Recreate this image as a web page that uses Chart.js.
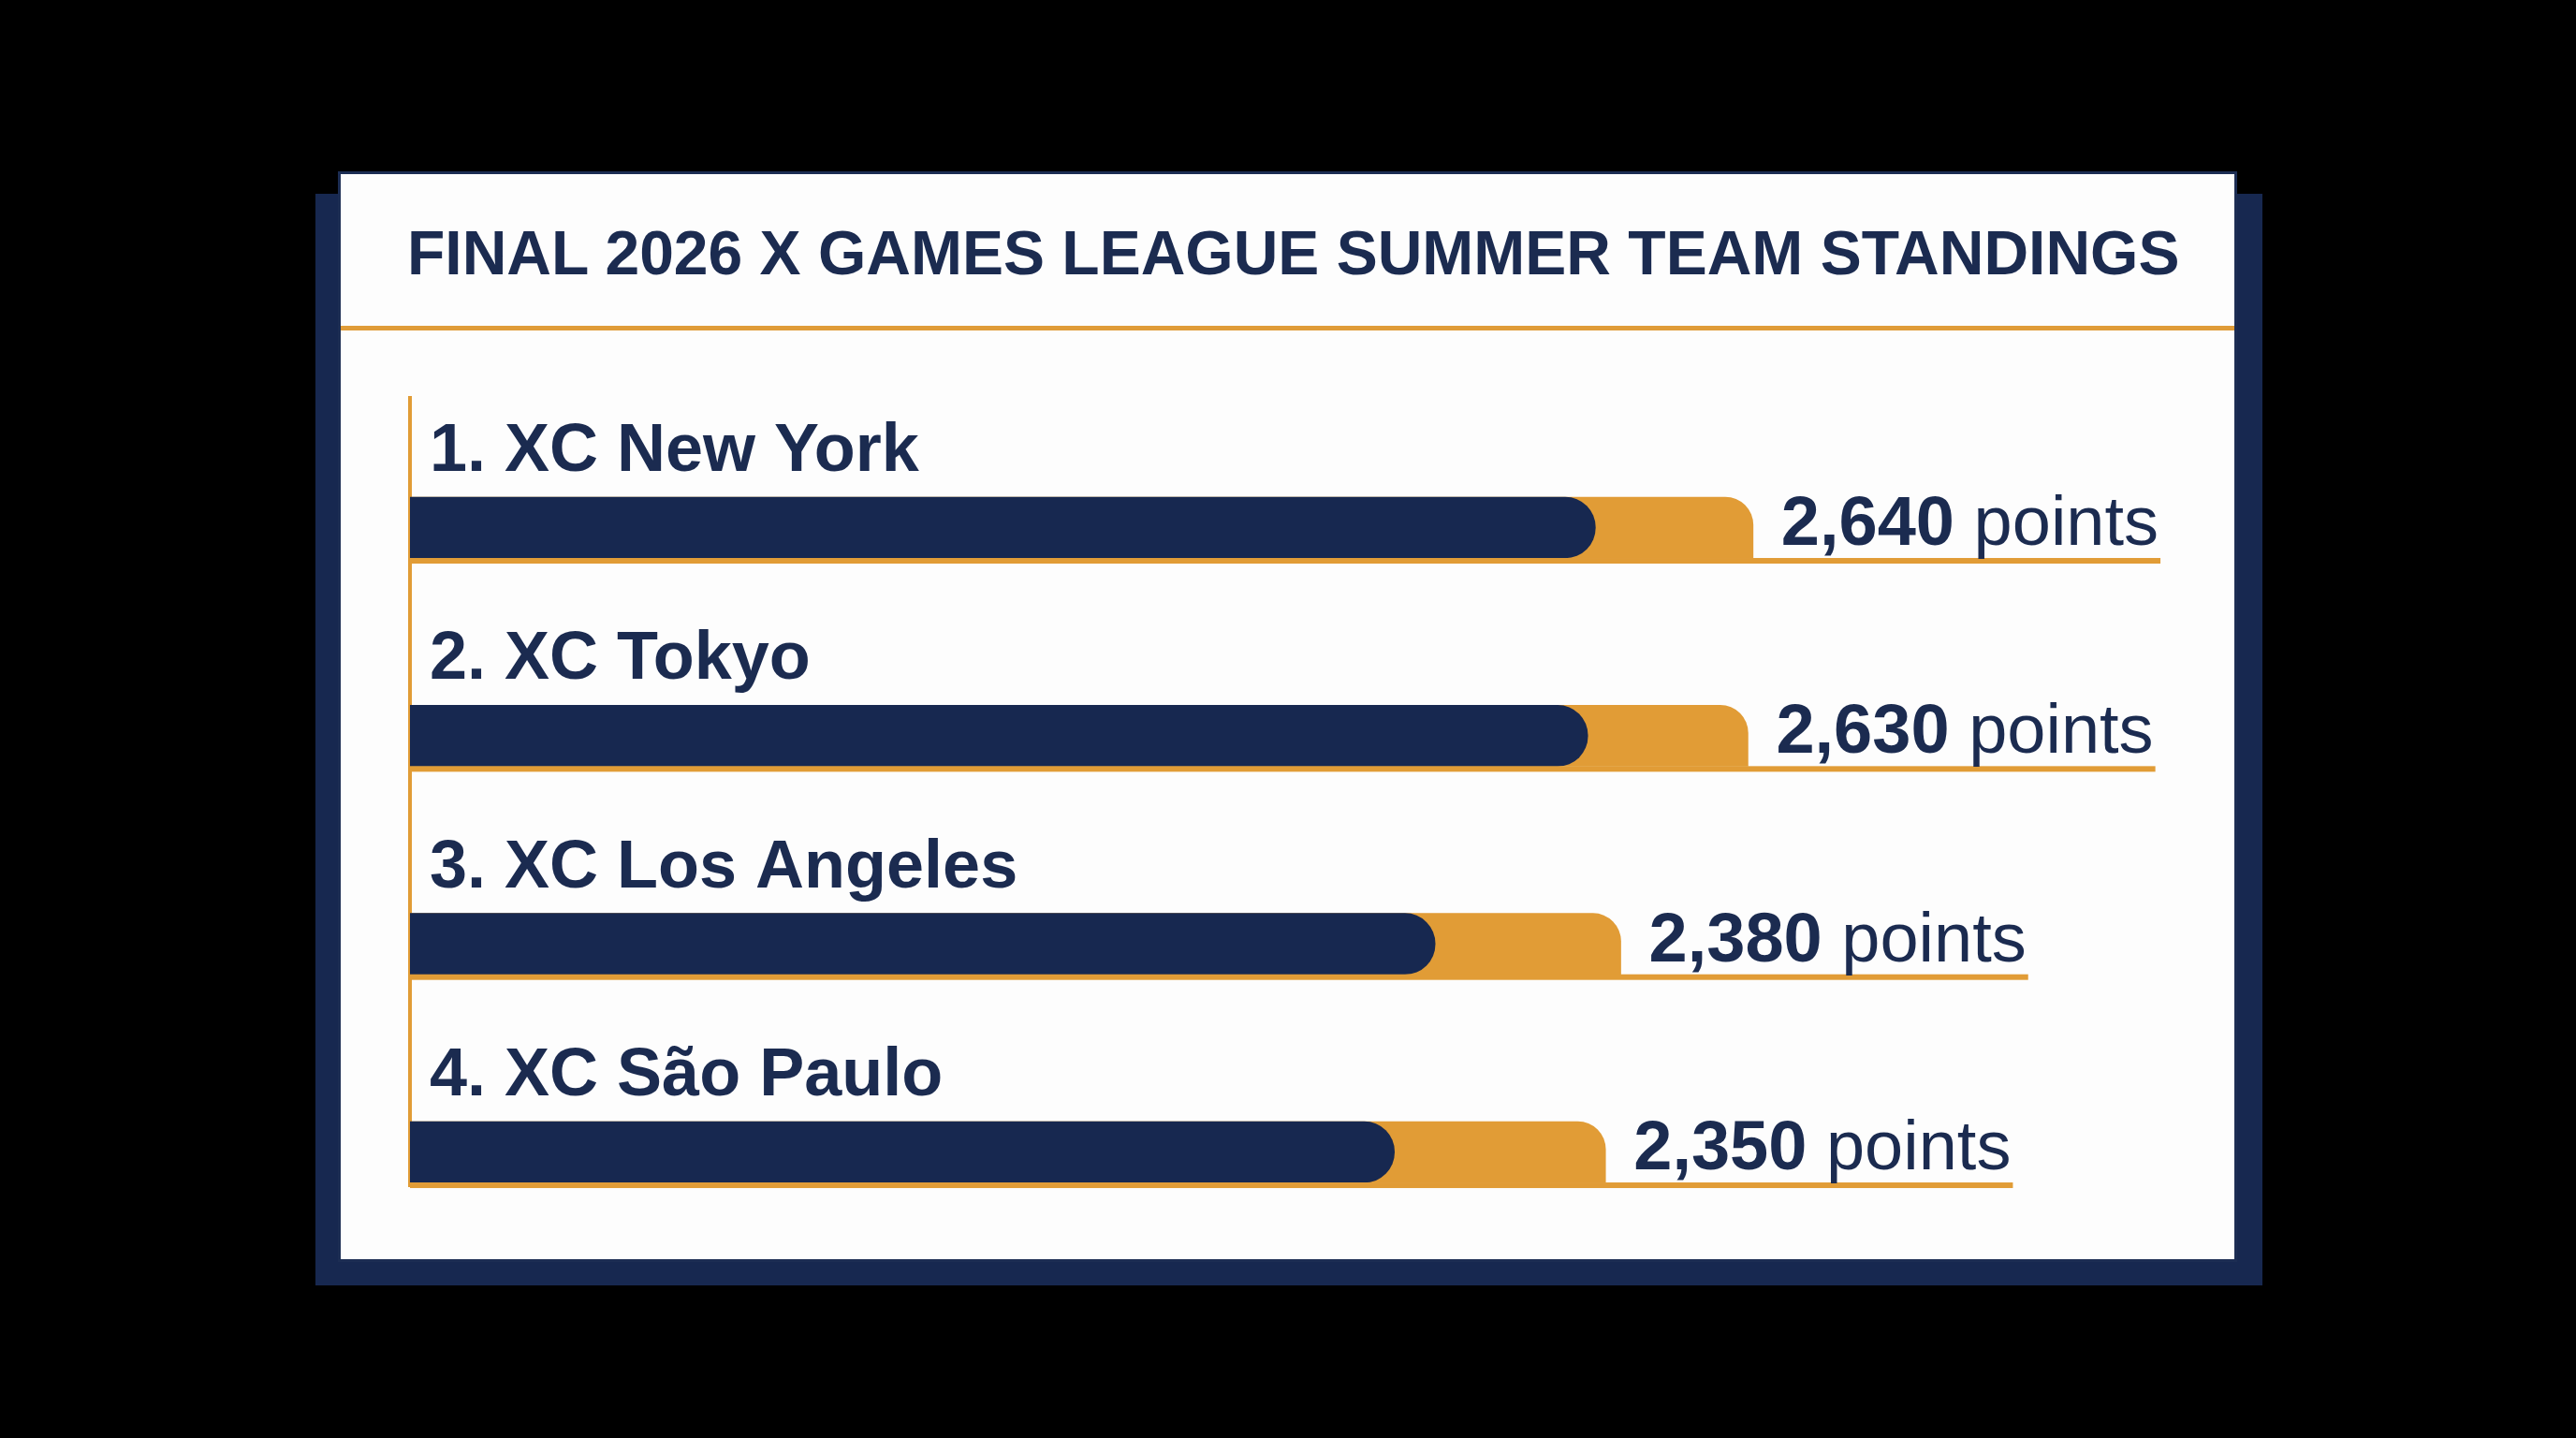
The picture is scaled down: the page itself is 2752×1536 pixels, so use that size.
<!DOCTYPE html>
<html lang="en">
<head>
<meta charset="UTF-8">
<title>X Games League standings</title>
<script src="https://cdn.jsdelivr.net/npm/chart.js"></script>
<style>
body {
  margin: 0;
  background: #000;
  width: 2752px;
  height: 1536px;
  overflow: hidden;
  position: relative;
  font-family: "Liberation Sans", Arial, sans-serif;
}
.shadow {
  position: absolute;
  left: 337px; top: 207px;
  width: 2080px; height: 1166px;
  background: #172850;
}
.card {
  position: absolute;
  left: 361px; top: 183px;
  width: 2023px; height: 1159px;
  background: #fdfdfd;
  border: 3px solid #1c2d53;
}
.title {
  position: absolute;
  left: 435px; top: 237px;
  font-size: 66px;
  line-height: 66px;
  font-weight: bold;
  color: #1b2b50;
  white-space: nowrap;
}
.divider {
  position: absolute;
  left: 364px; top: 348px;
  width: 2023px; height: 5px;
  background: #e09c38;
}
#chart { position: absolute; left: 0; top: 0; }
</style>
</head>
<body>

<div class="shadow"></div>
<div class="card"></div>
<div class="title">FINAL 2026 X GAMES LEAGUE SUMMER TEAM STANDINGS</div>
<div class="divider"></div>
<canvas id="chart" width="2752" height="1536"></canvas>

<script>

  // data
  const teams = ['1. XC New York', '2. XC Tokyo', '3. XC Los Angeles', '4. XC São Paulo'];
  const points = [2640, 2630, 2380, 2350];
  // dark inner part of each bar
  const innerPoints = [2330, 2315, 2015, 1935];
  const rows = [0, 1, 2, 3];

  const navy = '#172850';
  const orange = '#e19c36';
  const textNavy = '#1b2b50';
  const fontFam = '"Liberation Sans", Arial, sans-serif';

  // team names above the bars, value labels and the orange underline
  const standingLabels = {
    id: 'standingLabels',
    afterDatasetsDraw(chart) {
      const ctx = chart.ctx;
      const bars = chart.getDatasetMeta(1).data;
      ctx.save();
      ctx.textAlign = 'left';
      ctx.textBaseline = 'alphabetic';
      bars.forEach((bar, i) => {
        const top = bar.y - bar.height / 2;
        const bottom = bar.y + bar.height / 2;
        const num = points[i].toLocaleString('en-US');

        ctx.font = 'bold 74px ' + fontFam;
        const wNum = ctx.measureText(num).width;
        ctx.font = '74px ' + fontFam;
        const wPts = ctx.measureText(' points').width;
        const lx = bar.x + 30;

        ctx.fillStyle = orange;
        ctx.fillRect(bar.base, bottom, lx + wNum + wPts + 2 - bar.base, 6);

        ctx.fillStyle = textNavy;
        ctx.font = 'bold 74px ' + fontFam;
        ctx.fillText(num, lx, bottom - 14);
        ctx.font = '74px ' + fontFam;
        ctx.fillText(' points', lx + wNum, bottom - 14);

        ctx.font = 'bold 72px ' + fontFam;
        ctx.fillText(teams[i], chart.chartArea.left + 21, top - 28);
      });
      ctx.restore();
    }
  };

  const config = {
    type: 'bar',
    data: {
      datasets: [
        {
          label: 'inner',
          data: rows.map((r, i) => ({ x: innerPoints[i], y: r })),
          backgroundColor: navy,
          borderRadius: { topLeft: 0, bottomLeft: 0, topRight: 33, bottomRight: 33 },
          borderSkipped: 'start',
          barThickness: 65,
          grouped: false,
          order: 0
        },
        {
          label: 'points',
          data: rows.map((r, i) => ({ x: points[i], y: r })),
          backgroundColor: orange,
          borderRadius: { topLeft: 0, bottomLeft: 0, topRight: 30, bottomRight: 0 },
          borderSkipped: 'start',
          barThickness: 65,
          grouped: false,
          order: 1
        }
      ]
    },
    options: {
      indexAxis: 'y',
      responsive: false,
      devicePixelRatio: 1,
      animation: false,
      layout: { padding: { left: 430, top: 425, right: 140, bottom: 269 } },
      plugins: {
        legend: { display: false },
        tooltip: { enabled: false }
      },
      scales: {
        x: { type: 'linear', min: 0, max: 4000, display: false },
        y: {
          type: 'linear',
          reverse: true,
          offset: false,
          min: -0.623,
          max: 3.164,
          ticks: { display: false },
          grid: { display: false },
          border: { display: true, color: orange, width: 4 }
        }
      }
    },
    plugins: [standingLabels]
  };

  new Chart(document.getElementById('chart'), config);

</script>
</body>
</html>
